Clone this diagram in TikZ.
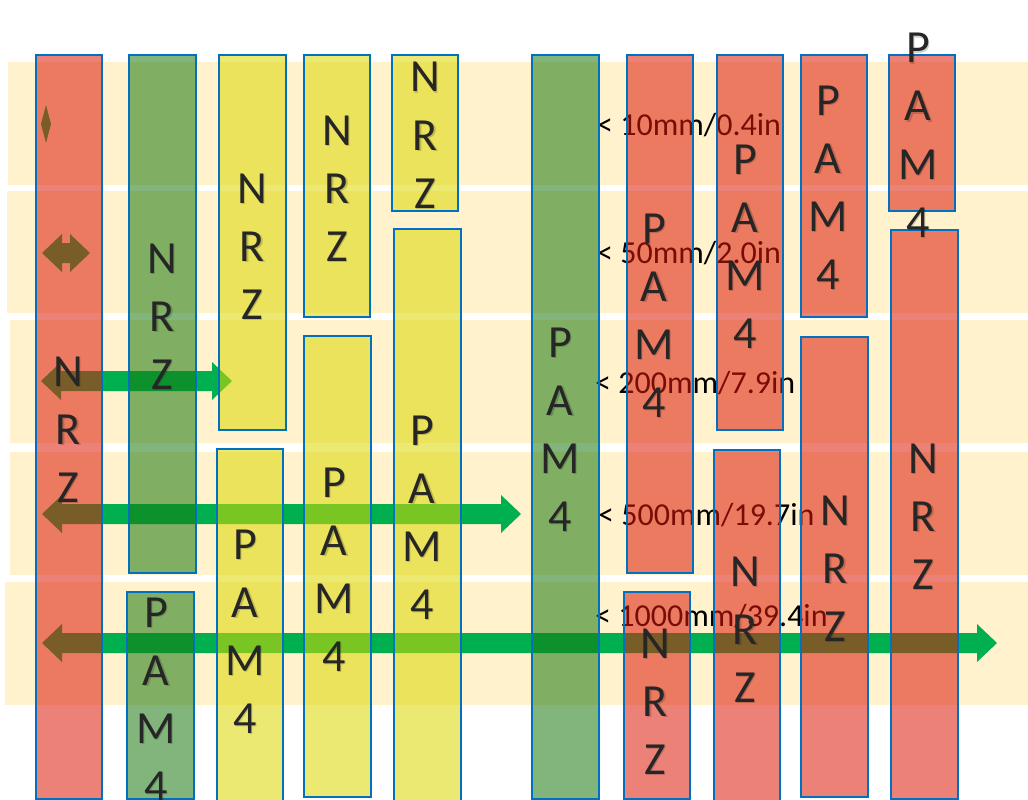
\documentclass[tikz,border=0pt]{standalone}
\usepackage{fontspec}
\setmainfont{Carlito}

\definecolor{bandfill}{RGB}{255,242,204}
\definecolor{barred}{RGB}{220,25,10}
\definecolor{bargreen}{RGB}{25,120,15}
\definecolor{baryellow}{RGB}{220,215,0}
\definecolor{barline}{RGB}{0,112,192}
\definecolor{arrowgreen}{RGB}{0,176,80}
\definecolor{ink}{RGB}{38,38,38}

\tikzset{
  band/.style={fill=bandfill, draw=none},
  bar/.style={draw=barline, line width=1.4pt, fill=#1, fill opacity=0.55},
  wide arrow/.style={fill=arrowgreen, draw=none},
  glyph/.style={text=ink, font=\fontsize{46}{56}\selectfont, inner sep=0pt,
    text height=30pt, text depth=0pt, anchor=center},
  glyph shadow/.style={glyph, text=black, text opacity=0.18},
  reach/.style={text=black, font=\fontsize{32}{38}\selectfont, inner sep=0pt,
    text height=20pt, text depth=0pt, anchor=west},
}

% vertical stack of letters: name, x, centre of first letter, letters
\newcommand\barword[4]{%
  \foreach \ch [count=\k from 0] in {#4}{%
    \node[glyph shadow] (#1s\k) at (#2+1.5, #3+58*\k+1.5) {\ch};
    \node[glyph] (#1\k) at (#2, #3+58*\k) {\ch};
  }}

% double-headed wide arrow: name, left tip x, right tip x, centre y
\newcommand\reacharrow[4]{%
  \coordinate (#1w) at (#2,#4);
  \coordinate (#1e) at (#3,#4);
  \pgfmathsetmacro\hl{min(20,(#3-#2)/2)}%
  \fill[wide arrow] (#1w) -- (#2+\hl,#4-19) -- (#2+\hl,#4-10) -- (#3-\hl,#4-10)
    -- (#3-\hl,#4-19) -- (#1e) -- (#3-\hl,#4+19) -- (#3-\hl,#4+10)
    -- (#2+\hl,#4+10) -- (#2+\hl,#4+19) -- cycle;
}

\begin{document}
\begin{tikzpicture}[x={(1pt,0)}, y={(0,-1pt)}]
\useasboundingbox (0,0) rectangle (1028,800);

% distance bands
\fill[band] (8,62) rectangle (1028,185);
\fill[band] (7,191) rectangle (1028,313);
\fill[band] (10,320) rectangle (1028,443);
\fill[band] (10,452) rectangle (1028,575);
\fill[band] (5,582) rectangle (1028,705);

% reach labels
\node[reach] (r1) at (597,125) {< 10mm/0.4in};
\node[reach] (r2) at (597,253) {< 50mm/2.0in};
\node[reach] (r3) at (595,383) {< 200mm/7.9in};
\node[reach] (r4) at (598,515) {< 500mm/19.7in};
\node[reach] (r5) at (595,616) {< 1000mm/39.4in};

% reach arrows
\reacharrow{a1}{41}{51}{124}
\reacharrow{a2}{42}{90}{253}
\reacharrow{a3}{41}{232}{381}
\reacharrow{a4}{42}{521}{514}
\reacharrow{a5}{42}{997}{643}

% coding bars
\draw[bar=barred]    (36,55)  rectangle (102,799);
\draw[bar=bargreen]  (129,55) rectangle (196,573);
\draw[bar=bargreen]  (127,592) rectangle (194,799);
\draw[bar=baryellow] (219,55) rectangle (286,430);
\draw[bar=baryellow] (217,449) rectangle (283,802);
\draw[bar=baryellow] (304,55) rectangle (370,317);
\draw[bar=baryellow] (304,336) rectangle (371,797);
\draw[bar=baryellow] (392,55) rectangle (458,211);
\draw[bar=baryellow] (394,229) rectangle (461,802);
\draw[bar=bargreen]  (532,55) rectangle (599,799);
\draw[bar=barred]    (627,55) rectangle (693,573);
\draw[bar=barred]    (624,592) rectangle (690,799);
\draw[bar=barred]    (717,55) rectangle (783,430);
\draw[bar=barred]    (714,450) rectangle (780,802);
\draw[bar=barred]    (801,55) rectangle (867,317);
\draw[bar=barred]    (801,337) rectangle (868,797);
\draw[bar=barred]    (889,55) rectangle (955,211);
\draw[bar=barred]    (891,230) rectangle (958,799);

% bar captions
\barword{w1}{68}{371}{N,R,Z}
\barword{w2}{162}{258}{N,R,Z}
\barword{w3}{156}{612}{P,A,M,4}
\barword{w4}{252}{188}{N,R,Z}
\barword{w5}{245}{544}{P,A,M,4}
\barword{w6}{337}{130}{N,R,Z}
\barword{w7}{334}{482}{P,A,M,4}
\barword{w8}{425}{77}{N,R,Z}
\barword{w9}{422}{430}{P,A,M,4}
\barword{w10}{560}{342}{P,A,M,4}
\barword{w11}{654}{228}{P,A,M,4}
\barword{w12}{655}{643}{N,R,Z}
\barword{w13}{745}{159}{P,A,M,4}
\barword{w14}{745}{571}{N,R,Z}
\barword{w15}{828}{100}{P,A,M,4}
\barword{w16}{835}{510}{N,R,Z}
\barword{w17}{918}{48}{P,A,M,4}
\barword{w18}{923}{458}{N,R,Z}
\end{tikzpicture}
\end{document}
